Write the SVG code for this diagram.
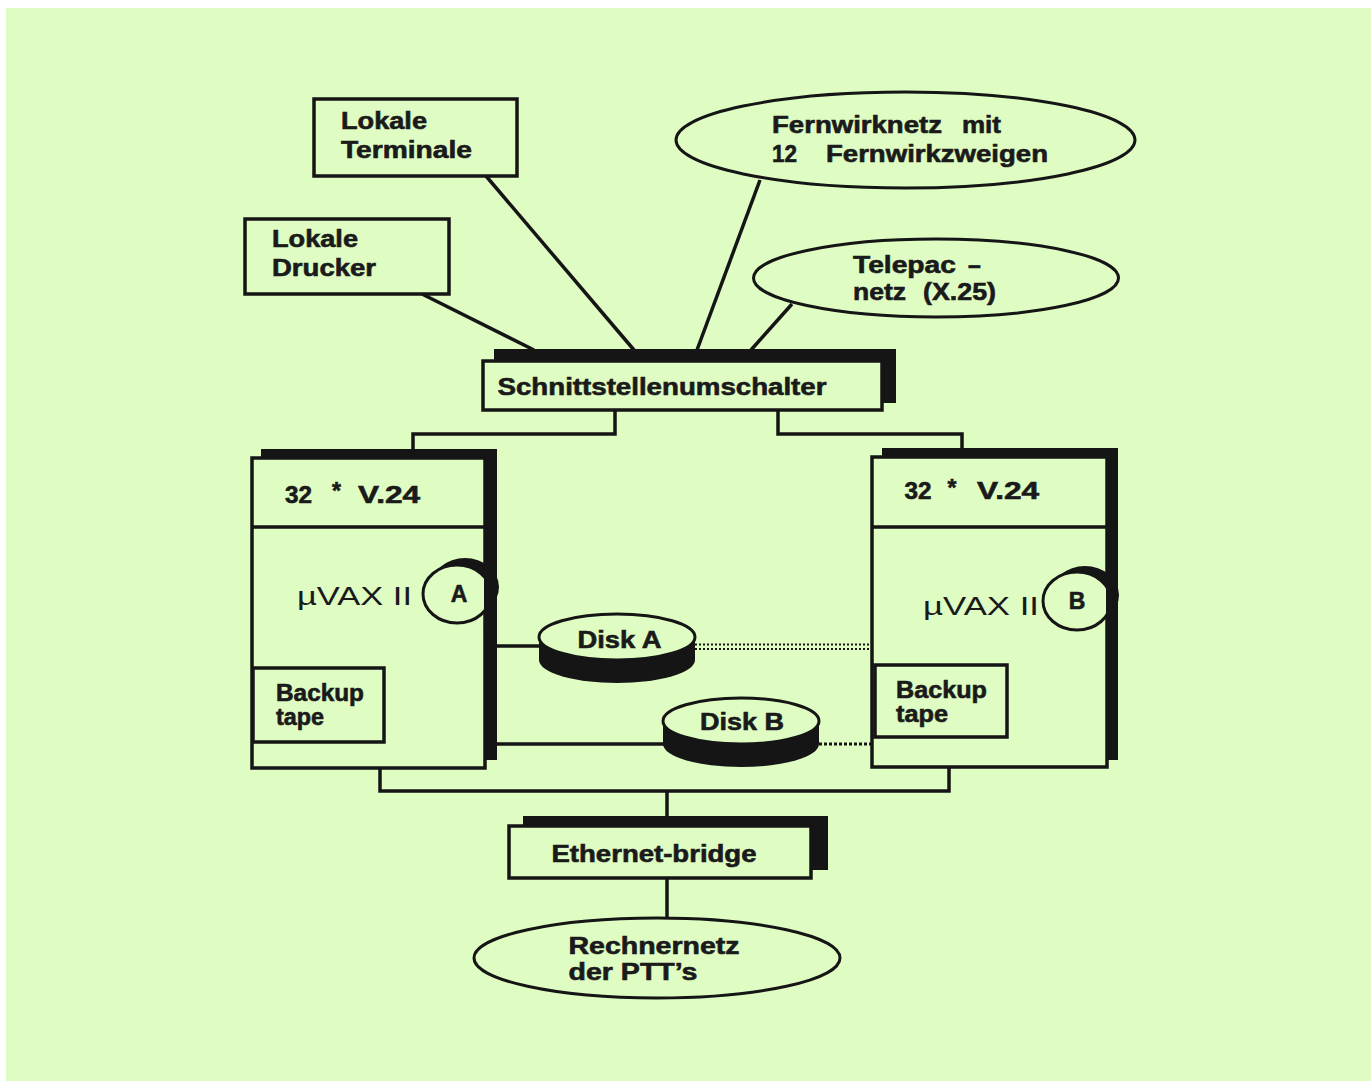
<svg xmlns="http://www.w3.org/2000/svg" width="1371" height="1081" viewBox="0 0 1371 1081">
<defs>
<style>
.box{fill:#dffcc3;stroke:#151515;stroke-width:3.5}
.sh{fill:#151515;stroke:none}
.ell{fill:#dffcc3;stroke:#151515;stroke-width:3}
.t{font-family:"Liberation Sans",Arial,sans-serif;font-weight:bold;font-size:23px;fill:#1a1a1a;stroke:#1a1a1a;stroke-width:0.6}
.r{font-family:"Liberation Sans",Arial,sans-serif;font-weight:normal;font-size:26px;fill:#1a1a1a}
.c{stroke:#151515;stroke-width:3.5;fill:none}
.dot{stroke:#151515;fill:none}
</style>
</defs>
<rect x="0" y="0" width="1371" height="1081" fill="#ffffff"/>
<rect x="6" y="8" width="1365" height="1073" fill="#dffcc3"/>

<g id="connectors">
<line class="c" x1="422" y1="294" x2="534" y2="350"/>
<line class="c" x1="486" y1="176" x2="634" y2="350"/>
<line class="c" x1="760" y1="180" x2="697" y2="350"/>
<line class="c" x1="792" y1="304" x2="751" y2="350"/>
<polyline class="c" points="615,410 615,434 413,434 413,450"/>
<polyline class="c" points="778,410 778,434 962,434 962,449"/>
<line class="c" x1="497" y1="646" x2="541" y2="646" stroke-width="4.5"/>
<line class="c" x1="497" y1="744" x2="665" y2="744"/>
<line class="dot" x1="695" y1="644.5" x2="872" y2="644.5" stroke-width="2" stroke-dasharray="2 2"/>
<line class="dot" x1="695" y1="649" x2="872" y2="649" stroke-width="2" stroke-dasharray="2 2"/>
<line class="dot" x1="819" y1="744" x2="872" y2="744" stroke-width="3" stroke-dasharray="3 2"/>
<polyline class="c" points="380,768 380,791 949,791 949,767"/>
<line class="c" x1="667" y1="791" x2="667" y2="817"/>
<line class="c" x1="667" y1="878" x2="667" y2="919"/>
</g>

<g id="lokale-terminale">
<rect class="box" x="314" y="99" width="203" height="77"/>
<text class="t" x="341" y="129" textLength="86" lengthAdjust="spacingAndGlyphs">Lokale</text>
<text class="t" x="341" y="157.5" textLength="131" lengthAdjust="spacingAndGlyphs">Terminale</text>
</g>

<g id="lokale-drucker">
<rect class="box" x="245" y="219" width="204" height="75"/>
<text class="t" x="272" y="247" textLength="86" lengthAdjust="spacingAndGlyphs">Lokale</text>
<text class="t" x="272" y="275.5" textLength="104" lengthAdjust="spacingAndGlyphs">Drucker</text>
</g>

<g id="fernwirknetz">
<ellipse class="ell" cx="905.5" cy="140" rx="229.5" ry="48"/>
<text class="t" x="772" y="133" textLength="170" lengthAdjust="spacingAndGlyphs">Fernwirknetz</text>
<text class="t" x="962" y="133" textLength="39" lengthAdjust="spacingAndGlyphs">mit</text>
<text class="t" x="772" y="161.5" textLength="25" lengthAdjust="spacingAndGlyphs">12</text>
<text class="t" x="826" y="161.5" textLength="222" lengthAdjust="spacingAndGlyphs">Fernwirkzweigen</text>
</g>

<g id="telepac">
<ellipse class="ell" cx="936" cy="278" rx="182.5" ry="39"/>
<text class="t" x="853" y="273" textLength="103" lengthAdjust="spacingAndGlyphs">Telepac</text>
<text class="t" x="968" y="273">–</text>
<text class="t" x="853" y="300" textLength="53" lengthAdjust="spacingAndGlyphs">netz</text>
<text class="t" x="923" y="300" textLength="73" lengthAdjust="spacingAndGlyphs">(X.25)</text>
</g>

<g id="schnittstellenumschalter">
<rect class="sh" x="494" y="349" width="402" height="54"/>
<rect class="box" x="483" y="361" width="399" height="49"/>
<text class="t" x="497.5" y="395" font-size="24" textLength="329" lengthAdjust="spacingAndGlyphs">Schnittstellenumschalter</text>
</g>

<g id="vax-a">
<rect class="sh" x="261" y="449" width="236" height="311"/>
<rect class="box" x="252" y="458" width="233" height="310"/>
<line class="c" x1="252" y1="527" x2="485" y2="527"/>
<text class="t" x="285" y="502.5" textLength="27" lengthAdjust="spacingAndGlyphs">32</text>
<text class="t" x="336.5" y="499" font-size="18" text-anchor="middle">*</text>
<text class="t" x="358" y="502.5" textLength="62" lengthAdjust="spacingAndGlyphs">V.24</text>
<text class="r" x="297" y="604.5" textLength="115" lengthAdjust="spacingAndGlyphs">µVAX II</text>
<ellipse class="sh" cx="465" cy="587" rx="34" ry="29"/>
<ellipse class="ell" cx="457" cy="594" rx="34" ry="29" stroke-width="2.5"/>
<rect class="sh" x="484" y="556" width="13" height="76"/>
<text class="t" x="459" y="601.5" font-size="20" text-anchor="middle">A</text>
<rect class="box" x="253" y="668" width="131" height="74"/>
<text class="t" x="276" y="701" textLength="88" lengthAdjust="spacingAndGlyphs">Backup</text>
<text class="t" x="276" y="725" textLength="48" lengthAdjust="spacingAndGlyphs">tape</text>
</g>

<g id="vax-b">
<rect class="sh" x="882" y="448" width="236" height="312"/>
<rect class="box" x="872" y="457" width="235" height="310"/>
<line class="c" x1="872" y1="527" x2="1107" y2="527"/>
<text class="t" x="904.5" y="499" textLength="27" lengthAdjust="spacingAndGlyphs">32</text>
<text class="t" x="952" y="496" font-size="18" text-anchor="middle">*</text>
<text class="t" x="977" y="499" textLength="62" lengthAdjust="spacingAndGlyphs">V.24</text>
<text class="r" x="923" y="615" textLength="116" lengthAdjust="spacingAndGlyphs">µVAX II</text>
<ellipse class="sh" cx="1085" cy="595" rx="34" ry="29"/>
<ellipse class="ell" cx="1077" cy="601" rx="34" ry="29" stroke-width="2.5"/>
<rect class="sh" x="1106" y="563" width="12" height="76"/>
<text class="t" x="1077" y="608.5" font-size="20" text-anchor="middle">B</text>
<rect class="box" x="875" y="665" width="132" height="72"/>
<text class="t" x="896" y="697.5" textLength="91" lengthAdjust="spacingAndGlyphs">Backup</text>
<text class="t" x="896" y="721.5" textLength="52" lengthAdjust="spacingAndGlyphs">tape</text>
</g>

<g id="disk-a">
<ellipse class="sh" cx="617" cy="660" rx="78" ry="23"/>
<rect class="sh" x="539" y="637" width="156" height="23"/>
<ellipse class="ell" cx="617" cy="637" rx="78" ry="23"/>
<text class="t" x="577.5" y="648" textLength="84" lengthAdjust="spacingAndGlyphs">Disk A</text>
</g>

<g id="disk-b">
<ellipse class="sh" cx="741" cy="744" rx="78" ry="23"/>
<rect class="sh" x="663" y="721" width="156" height="23"/>
<ellipse class="ell" cx="741" cy="721" rx="78" ry="23"/>
<text class="t" x="700" y="730" textLength="84" lengthAdjust="spacingAndGlyphs">Disk B</text>
</g>

<g id="ethernet-bridge">
<rect class="sh" x="523" y="816" width="305" height="54"/>
<rect class="box" x="509" y="826" width="302" height="52"/>
<text class="t" x="551.5" y="861.5" textLength="205" lengthAdjust="spacingAndGlyphs">Ethernet-bridge</text>
</g>

<g id="rechnernetz">
<ellipse class="ell" cx="657" cy="958" rx="183" ry="40"/>
<text class="t" x="568.5" y="954" textLength="171" lengthAdjust="spacingAndGlyphs">Rechnernetz</text>
<text class="t" x="568.5" y="980" textLength="129" lengthAdjust="spacingAndGlyphs">der PTT’s</text>
</g>
</svg>
